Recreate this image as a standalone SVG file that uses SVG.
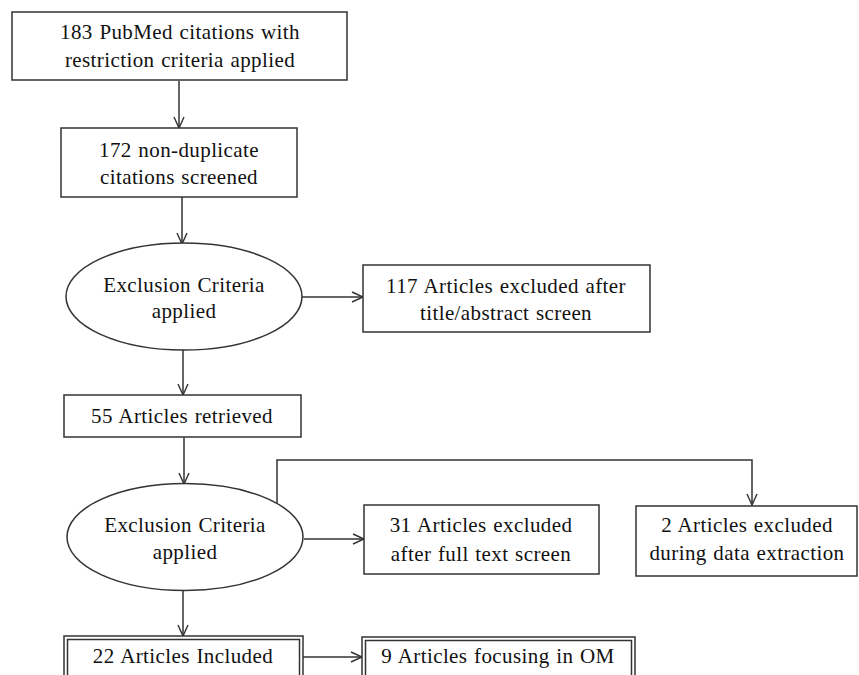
<svg xmlns="http://www.w3.org/2000/svg" width="859" height="675" viewBox="0 0 859 675">
<defs>
<marker id="arr" markerWidth="14" markerHeight="12" refX="12" refY="6" orient="auto" markerUnits="userSpaceOnUse">
<polyline points="1,1 12,6 1,11" fill="none" stroke="#333" stroke-width="1.4"/>
</marker>
<style>
.b{fill:#fff;stroke:#333;stroke-width:1.5}
.t{font-family:"Liberation Serif","Times New Roman",serif;font-size:21px;letter-spacing:0.4px;word-spacing:1px;fill:#111;text-anchor:middle}
.c{fill:none;stroke:#333;stroke-width:1.5}
</style>
</defs>
<rect width="859" height="675" fill="#fff"/>
<g id="connectors">
<line class="c" x1="179" y1="81" x2="179" y2="128" marker-end="url(#arr)"/>
<line class="c" x1="182" y1="197" x2="182" y2="244" marker-end="url(#arr)"/>
<line class="c" x1="302" y1="297" x2="363" y2="297" marker-end="url(#arr)"/>
<line class="c" x1="183" y1="350" x2="183" y2="395" marker-end="url(#arr)"/>
<line class="c" x1="184" y1="437" x2="184" y2="484" marker-end="url(#arr)"/>
<polyline class="c" points="277,503 277,460 752,460 752,505" marker-end="url(#arr)"/>
<line class="c" x1="304" y1="539" x2="364" y2="539" marker-end="url(#arr)"/>
<line class="c" x1="183" y1="590" x2="183" y2="636" marker-end="url(#arr)"/>
<line class="c" x1="303" y1="657" x2="362" y2="657" marker-end="url(#arr)"/>
</g>
<g id="n1">
<rect class="b" x="12" y="12" width="335" height="68"/>
<text class="t" x="180" y="39">183 PubMed citations with</text>
<text class="t" x="180" y="67">restriction criteria applied</text>
</g>
<g id="n2">
<rect class="b" x="61" y="128" width="236" height="69"/>
<text class="t" x="179" y="157">172 non-duplicate</text>
<text class="t" x="179" y="184">citations screened</text>
</g>
<g id="n3">
<ellipse class="b" cx="184" cy="296.5" rx="118" ry="53.5"/>
<text class="t" x="184" y="292">Exclusion Criteria</text>
<text class="t" x="184" y="318">applied</text>
</g>
<g id="n4">
<rect class="b" x="363" y="265" width="287" height="67"/>
<text class="t" x="506" y="293">117 Articles excluded after</text>
<text class="t" x="506" y="320">title/abstract screen</text>
</g>
<g id="n5">
<rect class="b" x="64" y="395" width="237" height="42"/>
<text class="t" x="182" y="423">55 Articles retrieved</text>
</g>
<g id="n6">
<ellipse class="b" cx="185" cy="537" rx="118" ry="53.5"/>
<text class="t" x="185" y="532">Exclusion Criteria</text>
<text class="t" x="185" y="559">applied</text>
</g>
<g id="n7">
<rect class="b" x="364" y="505" width="235" height="69"/>
<text class="t" x="481" y="532">31 Articles excluded</text>
<text class="t" x="481" y="561">after full text screen</text>
</g>
<g id="n8">
<rect class="b" x="636" y="506" width="221" height="70"/>
<text class="t" x="747" y="532">2 Articles excluded</text>
<text class="t" x="747" y="560">during data extraction</text>
</g>
<g id="n9">
<rect class="b" x="64" y="636" width="239" height="60"/>
<rect class="b" x="67.5" y="639.5" width="232" height="60"/>
<text class="t" x="183" y="663">22 Articles Included</text>
</g>
<g id="n10">
<rect class="b" x="362" y="637" width="273" height="60"/>
<rect class="b" x="365.5" y="640.5" width="266" height="60"/>
<text class="t" x="498" y="663">9 Articles focusing in OM</text>
</g>
</svg>
